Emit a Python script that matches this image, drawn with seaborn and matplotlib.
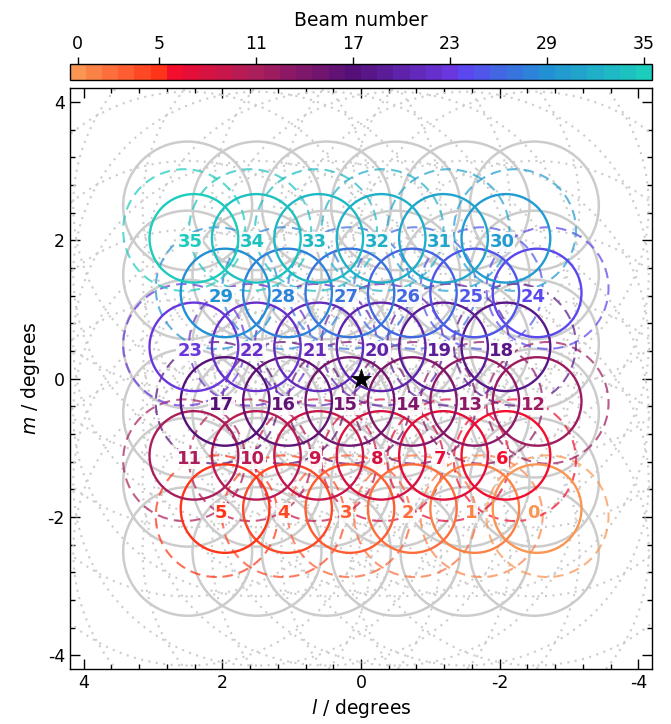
import numpy as np
import pandas as pd
import matplotlib
matplotlib.use("Agg")
import matplotlib.pyplot as plt
from matplotlib.patches import Circle
from matplotlib.colors import LinearSegmentedColormap, ListedColormap, BoundaryNorm
from matplotlib.cm import ScalarMappable
from matplotlib.ticker import AutoMinorLocator
import seaborn as sns

# ---------------- data ----------------
beam_id = list(range(36))
beam_l = [-2.54, -1.64, -0.74, 0.16, 1.06, 1.96,
          -2.09, -1.19, -0.29, 0.61, 1.51, 2.41,
          -2.54, -1.64, -0.74, 0.16, 1.06, 1.96,
          -2.09, -1.19, -0.29, 0.61, 1.51, 2.41,
          -2.54, -1.64, -0.74, 0.16, 1.06, 1.96,
          -2.09, -1.19, -0.29, 0.61, 1.51, 2.41]
beam_m = [-1.88] * 6 + [-1.11] * 6 + [-0.33] * 6 + [0.46] * 6 + [1.24] * 6 + [2.03] * 6
beam_r = 0.64

# larger (dashed) beams, slightly shifted outward
wide_l = [-2.69, -1.74, -0.78, 0.17, 1.12, 2.08,
          -2.22, -1.26, -0.31, 0.65, 1.60, 2.55,
          -2.69, -1.74, -0.78, 0.17, 1.12, 2.08,
          -2.22, -1.26, -0.31, 0.65, 1.60, 2.55,
          -2.69, -1.74, -0.78, 0.17, 1.12, 2.08,
          -2.22, -1.26, -0.31, 0.65, 1.60, 2.55]
wide_m = [-1.99] * 6 + [-1.18] * 6 + [-0.35] * 6 + [0.49] * 6 + [1.31] * 6 + [2.15] * 6
wide_r = 0.88

# reference square grid (grey)
grid_l = [2.5, 1.5, 0.5, -0.5, -1.5, -2.5]
grid_m = [2.5, 1.5, 0.5, -0.5, -1.5, -2.5]
grid_r = 0.93
grid_big_r = 2.65

cbar_ticks = [0, 5, 11, 17, 23, 29, 35]

# colour anchors
anchor_pos = [0, 5, 6, 11, 17, 23, 24, 29, 35]
anchor_col = ["#FA9552", "#FF3318", "#F20A30", "#AA1E5C", "#541078",
              "#6A36DC", "#5A48EE", "#2290D4", "#1CCCBC"]

# ---------------- style ----------------
sns.set_style("ticks")
plt.rcParams["font.family"] = ["DejaVu Sans"]
plt.rcParams["axes.unicode_minus"] = False
for k in ["text.color", "axes.labelcolor", "xtick.color", "ytick.color", "axes.edgecolor"]:
    plt.rcParams[k] = "black"

base = LinearSegmentedColormap.from_list(
    "beams", list(zip([p / 35 for p in anchor_pos], anchor_col)))
cmap = ListedColormap([base(i / 35) for i in beam_id])
norm = BoundaryNorm(np.arange(-0.5, 36.5, 1), cmap.N)

fig = plt.figure(figsize=(6.71, 7.24), dpi=100)
ax = fig.add_axes([0.104, 0.076, 0.868, 0.802])
cax = fig.add_axes([0.104, 0.889, 0.868, 0.022])

grey = "#cccccc"
for gl in grid_l:
    for gm in grid_m:
        ax.add_patch(Circle((gl, gm), grid_big_r, fill=False, ec=grey, lw=1.5,
                            ls=(0, (1, 2.6)), zorder=1))
for gl in grid_l:
    for gm in grid_m:
        ax.add_patch(Circle((gl, gm), grid_r, fill=False, ec=grey, lw=1.8, zorder=1.5))

df = pd.DataFrame({"beam": beam_id, "l": beam_l, "m": beam_m,
                   "wl": wide_l, "wm": wide_m})

for _, row in df.iterrows():
    c = cmap(norm(row.beam))
    ax.add_patch(Circle((row.wl, row.wm), wide_r, fill=False, ec=c, lw=1.5,
                        ls=(0, (5, 3)), alpha=0.72, zorder=2))

for _, row in df.iterrows():
    c = cmap(norm(row.beam))
    ax.annotate(str(int(row.beam)), (row.l, row.m), xytext=(-4, -4),
                textcoords="offset pixels", ha="center", va="center",
                fontsize=13, fontweight="bold", color=c, zorder=3,
                bbox=dict(boxstyle="square,pad=0.05", fc="white", ec="none", alpha=0.9))
    ax.add_patch(Circle((row.l, row.m), beam_r, fill=False, ec=c, lw=1.7, zorder=4))

sns.scatterplot(x=[0.0], y=[0.0], marker="*", s=220, color="black",
                edgecolor="black", linewidth=0.5, ax=ax, zorder=5, legend=False)

ax.set_xlim(4.2, -4.2)
ax.set_ylim(-4.2, 4.2)
ax.set_aspect("auto")
ax.set_xticks([4, 2, 0, -2, -4])
ax.set_yticks([-4, -2, 0, 2, 4])
ax.xaxis.set_minor_locator(AutoMinorLocator(5))
ax.yaxis.set_minor_locator(AutoMinorLocator(5))
ax.tick_params(which="both", direction="in", top=True, right=True, labelsize=12.5, width=1.0)
ax.tick_params(which="major", length=7)
ax.tick_params(which="minor", length=3.5)
for s in ax.spines.values():
    s.set_linewidth(1.0)
ax.set_xlabel("$l$ / degrees", fontsize=13.5, labelpad=4)
ax.set_ylabel("$m$ / degrees", fontsize=13.5, labelpad=4)

sm = ScalarMappable(norm=norm, cmap=cmap)
cb = fig.colorbar(sm, cax=cax, orientation="horizontal", ticks=cbar_ticks)
cax.xaxis.set_ticks_position("top")
cax.xaxis.set_label_position("top")
cax.tick_params(labelsize=12.5, length=5, width=1.0, direction="out")
cb.set_label("Beam number", fontsize=13.5, labelpad=6)
cb.outline.set_linewidth(1.0)
cax.minorticks_off()

fig.savefig("out.png", dpi=100)
